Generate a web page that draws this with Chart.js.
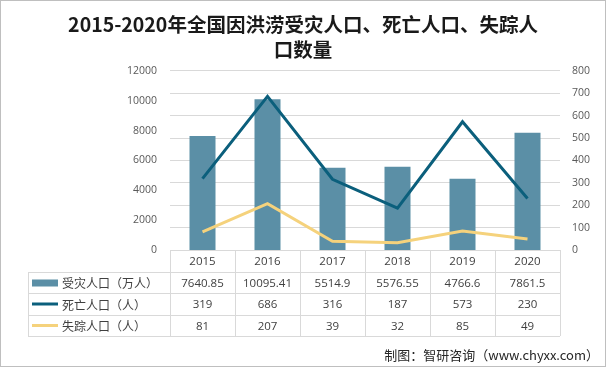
<!DOCTYPE html>
<html>
<head>
<meta charset="utf-8">
<script src="https://cdn.jsdelivr.net/npm/chart.js@4/dist/chart.umd.min.js"></script>
<style>
  html, body { margin: 0; padding: 0; background: #fff; }
  #wrap { width: 606px; height: 367px; position: relative; }
</style>
</head>
<body>
<div id="wrap"><canvas id="myChart" width="606" height="367"></canvas></div>
<script>
const years = ["2015", "2016", "2017", "2018", "2019", "2020"];
const affected = [7640.85, 10095.41, 5514.9, 5576.55, 4766.6, 7861.5];
const deaths = [319, 686, 316, 187, 573, 230];
const missing = [81, 207, 39, 32, 85, 49];
const seriesNames = ["受灾人口（万人）", "死亡人口（人）", "失踪人口（人）"];
const titleLines = ["2015-2020年全国因洪涝受灾人口、死亡人口、失踪人", "口数量"];
const creditText = "制图：智研咨询（www.chyxx.com）";

const barColor = "#5b8fa6";
const deathColor = "#0b5f7c";
const missingColor = "#f5d27c";
const cjkFont = '"Noto Sans CJK SC", sans-serif';
const numFont = '"Open Sans", "Noto Sans", "Noto Sans CJK SC", sans-serif';

// draws white background, data table under the plot, credit line and frame
const tablePlugin = {
    id: "dataTable",
    beforeDraw(chart) {
        const ctx = chart.ctx;
        ctx.save();
        ctx.fillStyle = "#fff";
        ctx.fillRect(0, 0, chart.width, chart.height);
        ctx.restore();
    },
    afterDraw(chart) {
        const ctx = chart.ctx;
        const area = chart.chartArea;
        const xs = chart.scales.x;
        const step = (area.right - area.left) / years.length;
        const tableLeft = 28;
        const rows = [area.bottom, area.bottom + 22, area.bottom + 43, area.bottom + 65, area.bottom + 86];

        ctx.save();
        ctx.strokeStyle = "#d9d9d9";
        ctx.lineWidth = 1;
        ctx.beginPath();
        ctx.moveTo(area.left, Math.round(rows[0]) + 0.5);
        ctx.lineTo(area.right, Math.round(rows[0]) + 0.5);
        for (let r = 1; r < rows.length; r++) {
            ctx.moveTo(tableLeft, Math.round(rows[r]) + 0.5);
            ctx.lineTo(area.right, Math.round(rows[r]) + 0.5);
        }
        for (let i = 0; i <= years.length; i++) {
            const x = Math.round(area.left + i * step) + 0.5;
            ctx.moveTo(x, rows[0]);
            ctx.lineTo(x, rows[4]);
        }
        ctx.moveTo(tableLeft + 0.5, rows[1]);
        ctx.lineTo(tableLeft + 0.5, rows[4]);
        ctx.stroke();

        ctx.fillStyle = "#404040";
        ctx.font = "11.5px " + numFont;
        ctx.textAlign = "center";
        ctx.textBaseline = "middle";
        const tableRows = [years, affected, deaths, missing];
        for (let r = 0; r < tableRows.length; r++) {
            const cy = (rows[r] + rows[r + 1]) / 2 + 1;
            for (let i = 0; i < years.length; i++) {
                ctx.fillText(String(tableRows[r][i]), xs.getPixelForValue(i), cy);
            }
        }

        // legend column
        ctx.textAlign = "left";
        for (let s = 0; s < seriesNames.length; s++) {
            const cy = (rows[s + 1] + rows[s + 2]) / 2;
            if (s === 0) {
                ctx.fillStyle = barColor;
                ctx.fillRect(32, cy - 3, 26, 7);
            } else {
                ctx.strokeStyle = s === 1 ? deathColor : missingColor;
                ctx.lineWidth = 3;
                ctx.beginPath();
                ctx.moveTo(32, cy);
                ctx.lineTo(58, cy);
                ctx.stroke();
            }
            ctx.fillStyle = "#404040";
            ctx.font = "12px " + cjkFont;
            ctx.fillText(seriesNames[s], 62, cy + 1);
        }

        ctx.fillStyle = "#262626";
        ctx.font = "13px " + cjkFont;
        ctx.textAlign = "right";
        ctx.fillText(creditText, 599, 355);

        ctx.strokeStyle = "#bfbfbf";
        ctx.lineWidth = 1;
        ctx.strokeRect(0.5, 0.5, chart.width - 1, chart.height - 1);
        ctx.restore();
    }
};

const myChartElement = document.getElementById("myChart");

const options = {
    type: "bar",
    data: {
        labels: years,
        datasets: [{
            type: "line",
            label: seriesNames[1],
            data: deaths,
            yAxisID: "y1",
            borderColor: deathColor,
            borderWidth: 3,
            pointRadius: 0,
            tension: 0,
            order: 1
        }, {
            type: "line",
            label: seriesNames[2],
            data: missing,
            yAxisID: "y1",
            borderColor: missingColor,
            borderWidth: 3,
            pointRadius: 0,
            tension: 0,
            order: 2
        }, {
            type: "bar",
            label: seriesNames[0],
            data: affected,
            yAxisID: "y",
            backgroundColor: barColor,
            barPercentage: 0.4,
            categoryPercentage: 1,
            order: 3
        }]
    },
    options: {
        responsive: false,
        animation: false,
        layout: {
            padding: { top: 0, bottom: 117, left: 0, right: 0 }
        },
        plugins: {
            legend: { display: false },
            tooltip: { enabled: false },
            title: {
                display: true,
                text: titleLines,
                color: "#1a1a1a",
                font: { family: cjkFont, size: 19.5, weight: "bold", lineHeight: 1.28 },
                padding: { top: 12, bottom: 9 }
            }
        },
        scales: {
            x: {
                display: false,
                offset: true
            },
            y: {
                position: "left",
                min: 0,
                max: 12000,
                ticks: {
                    stepSize: 2000,
                    color: "#595959",
                    padding: 13,
                    font: { family: numFont, size: 10.5 },
                    callback: (v) => String(v)
                },
                grid: { display: false, drawTicks: false },
                border: { display: false },
                afterFit(scale) { scale.width = 170; }
            },
            y1: {
                position: "right",
                min: 0,
                max: 800,
                ticks: {
                    stepSize: 100,
                    color: "#595959",
                    padding: 12,
                    font: { family: numFont, size: 10.5 },
                    callback: (v) => String(v)
                },
                grid: { color: "#d9d9d9", drawTicks: false },
                border: { display: false },
                afterFit(scale) { scale.width = 46; }
            }
        }
    },
    plugins: [tablePlugin]
};

new Chart(myChartElement, options);
</script>
</body>
</html>
